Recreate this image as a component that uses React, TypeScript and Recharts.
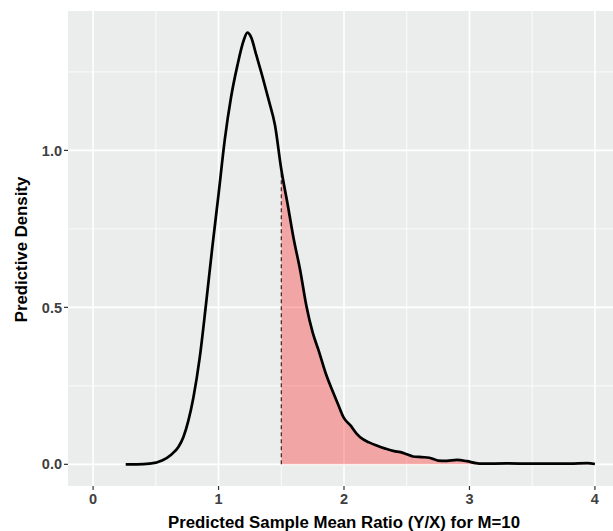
import { ComposedChart, Line, Area, XAxis, YAxis, CartesianGrid, ReferenceLine } from "recharts";

// density curve
const ratio = [
  0.26, 0.35, 0.45, 0.55, 0.62, 0.68, 0.72, 0.76, 0.8, 0.85, 0.9, 0.95, 1.0, 1.05, 1.1, 1.15, 1.2, 1.23,
  1.26, 1.3, 1.35, 1.4, 1.45, 1.5, 1.55, 1.6, 1.65, 1.7, 1.75, 1.8, 1.85, 1.9, 1.95, 2.0, 2.05, 2.1,
  2.15, 2.2, 2.26, 2.33, 2.4, 2.45, 2.5, 2.55, 2.62, 2.68, 2.75, 2.82, 2.9, 2.98, 3.05, 3.1, 3.3, 3.5,
  3.7, 3.8, 3.94, 4.0,
];
const density = [
  0.0, 0.0, 0.002, 0.012, 0.03, 0.055, 0.087, 0.14, 0.214, 0.34, 0.51, 0.69, 0.86, 1.035, 1.17, 1.27, 1.35, 1.375,
  1.36, 1.305, 1.235, 1.16, 1.08, 0.94, 0.83, 0.716, 0.62, 0.505, 0.42, 0.36, 0.295, 0.242, 0.194, 0.147, 0.125, 0.098,
  0.08, 0.07, 0.06, 0.05, 0.042, 0.039, 0.032, 0.025, 0.023, 0.021, 0.012, 0.011, 0.014, 0.01, 0.004, 0.002, 0.003, 0.002,
  0.002, 0.002, 0.004, 0.001,
];
const cutoff = 1.5;
const cutoffDensity = 0.94;

const xTicks = [0, 1, 2, 3, 4];
const xMinor = [0.5, 1.5, 2.5, 3.5];
const yTicks = [0, 0.5, 1.0];
const yMinor = [0.25, 0.75, 1.25];

const data = ratio.map((x, i) => ({
  x,
  y: density[i],
  tail: x >= cutoff ? density[i] : null,
}));

const tickStyle = { fill: "#404040", fontSize: 14.5, fontWeight: 700 };

export default function App() {
  return (
    <div
      style={{
        position: "fixed",
        left: 0,
        top: 0,
        width: 613,
        height: 531,
        overflow: "hidden",
        background: "#fff",
        fontFamily: "'Liberation Sans', Arial, sans-serif",
      }}
    >
      <ComposedChart width={620} height={531} data={data} margin={{ top: 11, right: 0, bottom: 0, left: 0 }}>
        <CartesianGrid
          fill="#EBECEC"
          fillOpacity={1}
          stroke="#FFFFFF"
          strokeWidth={0.8}
          verticalValues={xMinor}
          horizontalValues={yMinor}
        />
        <CartesianGrid stroke="#FFFFFF" strokeWidth={1.6} verticalValues={xTicks} horizontalValues={yTicks} />
        <XAxis
          type="number"
          dataKey="x"
          domain={[-0.2, 4.2]}
          ticks={xTicks}
          allowDataOverflow
          height={45}
          tickSize={4}
          tickMargin={4}
          axisLine={false}
          tickLine={{ stroke: "#333333", strokeWidth: 1.2 }}
          tick={tickStyle}
          label={{
            content: () => (
              <text x={344} y={528} textAnchor="middle" fontSize={16.8} fontWeight={700} fill="#000">
                Predicted Sample Mean Ratio (Y/X) for M=10
              </text>
            ),
          }}
        />
        <YAxis
          type="number"
          domain={[-0.069, 1.444]}
          ticks={yTicks}
          allowDataOverflow
          width={68}
          tickSize={4}
          tickMargin={2}
          axisLine={false}
          tickLine={{ stroke: "#333333", strokeWidth: 1.2 }}
          tick={tickStyle}
          tickFormatter={(v: number) => v.toFixed(1)}
          label={{
            content: () => (
              <text
                x={27}
                y={249.5}
                transform="rotate(-90 27 249.5)"
                textAnchor="middle"
                fontSize={16.8}
                fontWeight={700}
                fill="#000"
              >
                Predictive Density
              </text>
            ),
          }}
        />
        <Area
          type="monotone"
          dataKey="tail"
          stroke="none"
          fill="#FF0000"
          fillOpacity={0.3}
          baseValue={0}
          connectNulls={false}
          isAnimationActive={false}
        />
        <ReferenceLine
          segment={[
            { x: cutoff, y: 0 },
            { x: cutoff, y: cutoffDensity },
          ]}
          stroke="#2A1414"
          strokeWidth={1.1}
          strokeDasharray="4 3"
        />
        <Line
          type="monotone"
          dataKey="y"
          stroke="#000000"
          strokeWidth={2.7}
          dot={false}
          isAnimationActive={false}
        />
      </ComposedChart>
    </div>
  );
}
